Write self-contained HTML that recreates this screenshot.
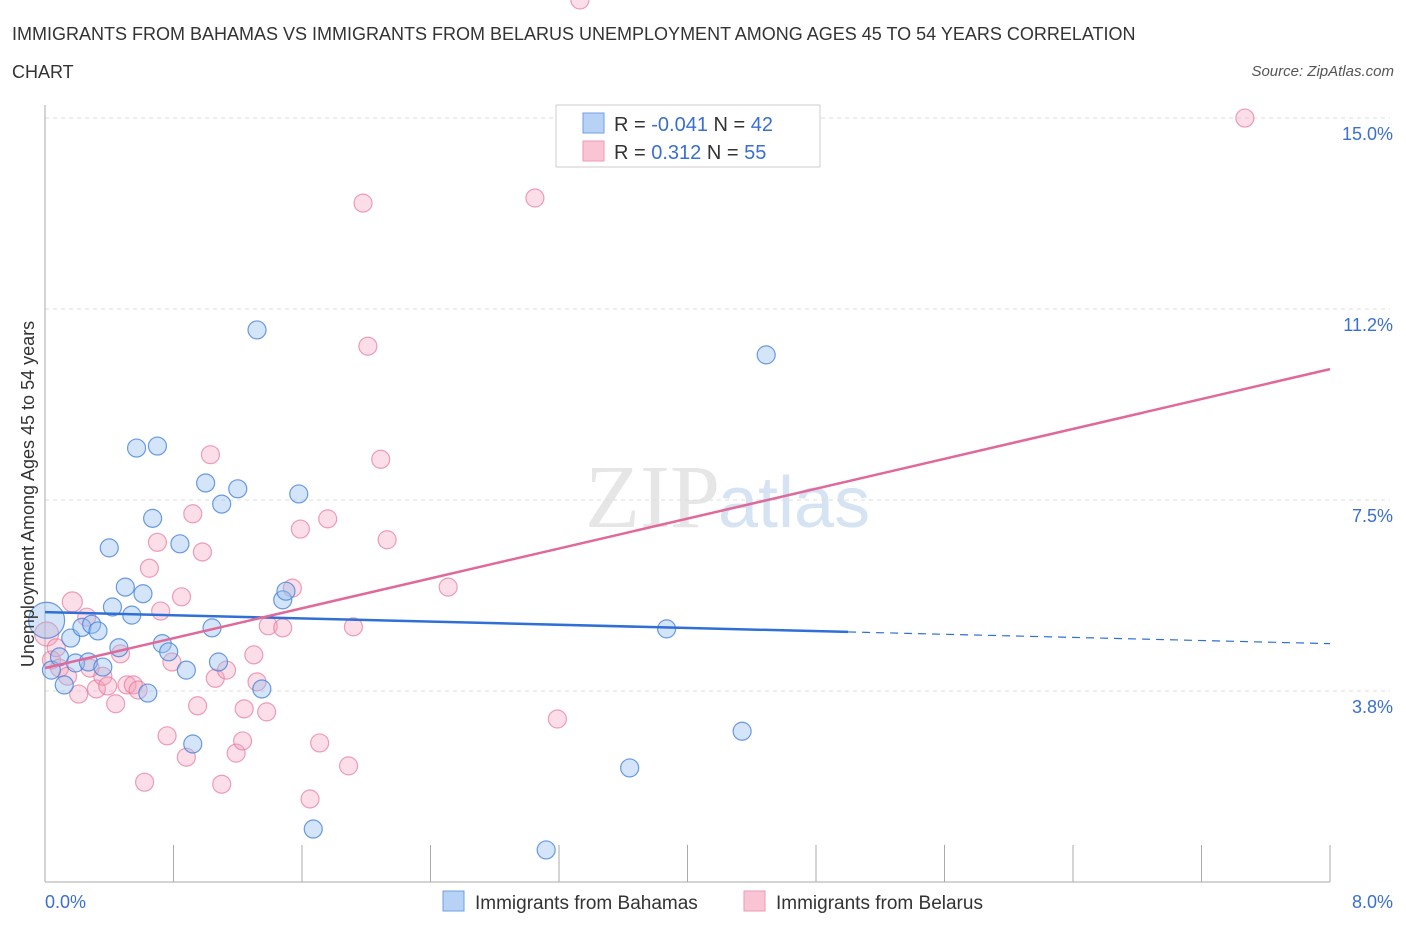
<!DOCTYPE html>
<html><head><meta charset="utf-8"><style>
body{margin:0;background:#fff;font-family:"Liberation Sans",sans-serif;}
</style></head><body>
<svg id="c" width="1406" height="930" xmlns="http://www.w3.org/2000/svg" style="font-family:'Liberation Sans',sans-serif">
<text x="12" y="40" font-size="18" fill="#333">IMMIGRANTS FROM BAHAMAS VS IMMIGRANTS FROM BELARUS UNEMPLOYMENT AMONG AGES 45 TO 54 YEARS CORRELATION</text>
<text x="12" y="78" font-size="18" fill="#333">CHART</text>
<text x="1394" y="76" font-size="15" fill="#555" font-style="italic" text-anchor="end">Source: ZipAtlas.com</text>
<text x="720" y="527" font-size="90" fill="#e6e6e6" text-anchor="end" font-family="Liberation Serif">ZIP</text>
<text x="718" y="527" font-size="72" fill="#d5e3f3">atlas</text>
<g id="grid"></g><g id="pts"></g><g id="trend"></g>
<text transform="translate(34,494) rotate(-90)" font-size="18" fill="#333" text-anchor="middle">Unemployment Among Ages 45 to 54 years</text>
<g>
<rect x="556" y="105" width="264" height="62" fill="#fff" stroke="#ccc"/>
<rect x="583" y="113" width="21" height="20" fill="#b8d2f5" stroke="#6f9fe0"/>
<rect x="583" y="141" width="21" height="20" fill="#f9c5d5" stroke="#ec9ab3"/>
<text x="614" y="131" font-size="20" fill="#333">R = <tspan fill="#3a6fd0">-0.041</tspan>   N = <tspan fill="#3a6fd0">42</tspan></text>
<text x="614" y="159" font-size="20" fill="#333">R =    <tspan fill="#3a6fd0">0.312</tspan>   N = <tspan fill="#3a6fd0">55</tspan></text>
</g>
<g>
<rect x="443" y="891" width="21" height="20" fill="#b8d2f5" stroke="#6f9fe0"/>
<text x="475" y="909" font-size="19" fill="#333">Immigrants from Bahamas</text>
<rect x="744" y="891" width="21" height="20" fill="#f9c5d5" stroke="#ec9ab3"/>
<text x="776" y="909" font-size="19" fill="#333">Immigrants from Belarus</text>
</g>
</svg>
<script>
const yTicks=[3.8,7.5,11.2,15.0];
const yGridVals=[3.75,7.5,11.25,15];
const xTickLabels=["0.0%","8.0%"];
const bahamasX=[0.01,0.04,0.09,0.12,0.16,0.19,0.23,0.27,0.29,0.33,0.36,0.4,0.42,0.46,0.5,0.54,0.57,0.61,0.64,0.67,0.7,0.73,0.77,0.84,0.88,0.92,1.0,1.04,1.08,1.1,1.2,1.32,1.35,1.48,1.5,1.58,1.67,3.12,3.64,3.87,4.34,4.49];
const bahamasY=[5.14,4.16,4.42,3.87,4.79,4.3,5.0,4.32,5.06,4.93,4.22,6.56,5.4,4.6,5.79,5.24,8.52,5.66,3.71,7.14,8.56,4.68,4.52,6.64,4.16,2.71,7.835,4.99,4.32,7.42,7.72,10.84,3.79,5.54,5.71,7.62,1.04,0.63,2.24,4.97,2.96,10.35];
const bahamasR=[18,9,9,9,9,9,9,9,9,9,9,9,9,9,9,9,9,9,9,9,9,9,9,9,9,9,9,9,9,9,9,9,9,9,9,9,9,9,9,9,9,9];
const belarusX=[0.01,0.04,0.07,0.09,0.14,0.17,0.21,0.26,0.28,0.32,0.36,0.39,0.44,0.47,0.51,0.55,0.58,0.62,0.65,0.7,0.72,0.76,0.79,0.85,0.88,0.92,0.95,0.98,1.03,1.06,1.1,1.13,1.19,1.23,1.24,1.3,1.32,1.38,1.39,1.48,1.54,1.59,1.65,1.71,1.76,1.89,1.92,1.98,2.01,2.09,2.13,2.51,3.05,3.19,7.47,3.33];
const belarusY=[4.87,4.36,4.6,4.2,4.04,5.5,3.69,5.2,4.2,3.79,4.04,3.85,3.5,4.48,3.87,3.87,3.77,1.96,6.16,6.67,5.32,2.87,4.32,5.6,2.45,7.23,3.46,6.48,8.39,4.0,1.92,4.16,2.53,2.77,3.4,4.46,3.93,3.34,5.03,4.99,5.77,6.93,1.63,2.73,7.13,2.28,5.01,13.33,10.52,8.3,6.72,5.79,13.43,3.2,15.0];
const belarusR=[12,9,9,9,9,10,9,9,9,9,9,9,9,9,9,9,9,9,9,9,9,9,9,9,9,9,9,9,9,9,9,9,9,9,9,9,9,9,9,9,9,9,9,9,9,9,9,9,9,9,9,9,9,9,9,9];
const blueTrend=[5.3,4.91,4.68];
const pinkTrend=[4.2,10.07];
const X0=45,X1=1330,Y0=882,YPER=50.93;
const xs=v=>X0+(X1-X0)*v/8;
const ys=v=>Y0-v*YPER;
const NS="http://www.w3.org/2000/svg";
function mk(t,a,p){const e=document.createElementNS(NS,t);for(const k in a)e.setAttribute(k,a[k]);p.appendChild(e);return e;}
const g=document.getElementById('grid');
yGridVals.forEach((v,i)=>{
 const l=mk('line',{x1:X0,x2:X1+60,y1:ys(v),y2:ys(v),stroke:'#ddd','stroke-dasharray':'4,4'},g);
 
 
 const t=mk('text',{x:1393,y:ys(v)+22,'font-size':18,fill:'#3a6fd0','text-anchor':'end'},g);
 t.textContent=yTicks[i].toFixed(1)+'%';
 
 
});
const ax=mk('line',{x1:X0,x2:X0,y1:105,y2:Y0,stroke:'#aaa'},g);


const bx=mk('line',{x1:X0,x2:X1,y1:Y0,y2:Y0,stroke:'#aaa'},g);


for(let i=1;i<=10;i++){const t=mk('line',{x1:xs(i*0.8),x2:xs(i*0.8),y1:Y0-37,y2:Y0,stroke:'#aaa'},g);
 
 }
xTickLabels.forEach((s,i)=>{const t=mk('text',{x:i?1393:45,y:908,'font-size':18,fill:'#3a6fd0','text-anchor':i?'end':'start'},g);t.textContent=s;
 
 });
const p=document.getElementById('pts');
belarusX.forEach((v,i)=>{const c=mk('circle',{cx:xs(v),cy:ys(belarusY[i]),r:belarusR[i],fill:'rgba(244,160,185,0.35)',stroke:'rgba(232,120,155,0.7)','stroke-width':1.2},p);
 
 });
bahamasX.forEach((v,i)=>{const c=mk('circle',{cx:xs(v),cy:ys(bahamasY[i]),r:bahamasR[i],fill:'rgba(150,190,240,0.4)',stroke:'rgba(70,130,220,0.8)','stroke-width':1.2},p);
 
 });
const tr=document.getElementById('trend');
let l1=mk('line',{x1:xs(0),y1:ys(blueTrend[0]),x2:xs(5),y2:ys(blueTrend[1]),stroke:'#2f6fd6','stroke-width':2.5},tr);


let l2=mk('line',{x1:xs(5),y1:ys(blueTrend[1]),x2:xs(8),y2:ys(blueTrend[2]),stroke:'#2f6fd6','stroke-width':1.2,'stroke-dasharray':'8,6'},tr);


let l3=mk('line',{x1:xs(0),y1:ys(pinkTrend[0]),x2:xs(8),y2:ys(pinkTrend[1]),stroke:'#e0699a','stroke-width':2.5},tr);


</script>
</body></html>
